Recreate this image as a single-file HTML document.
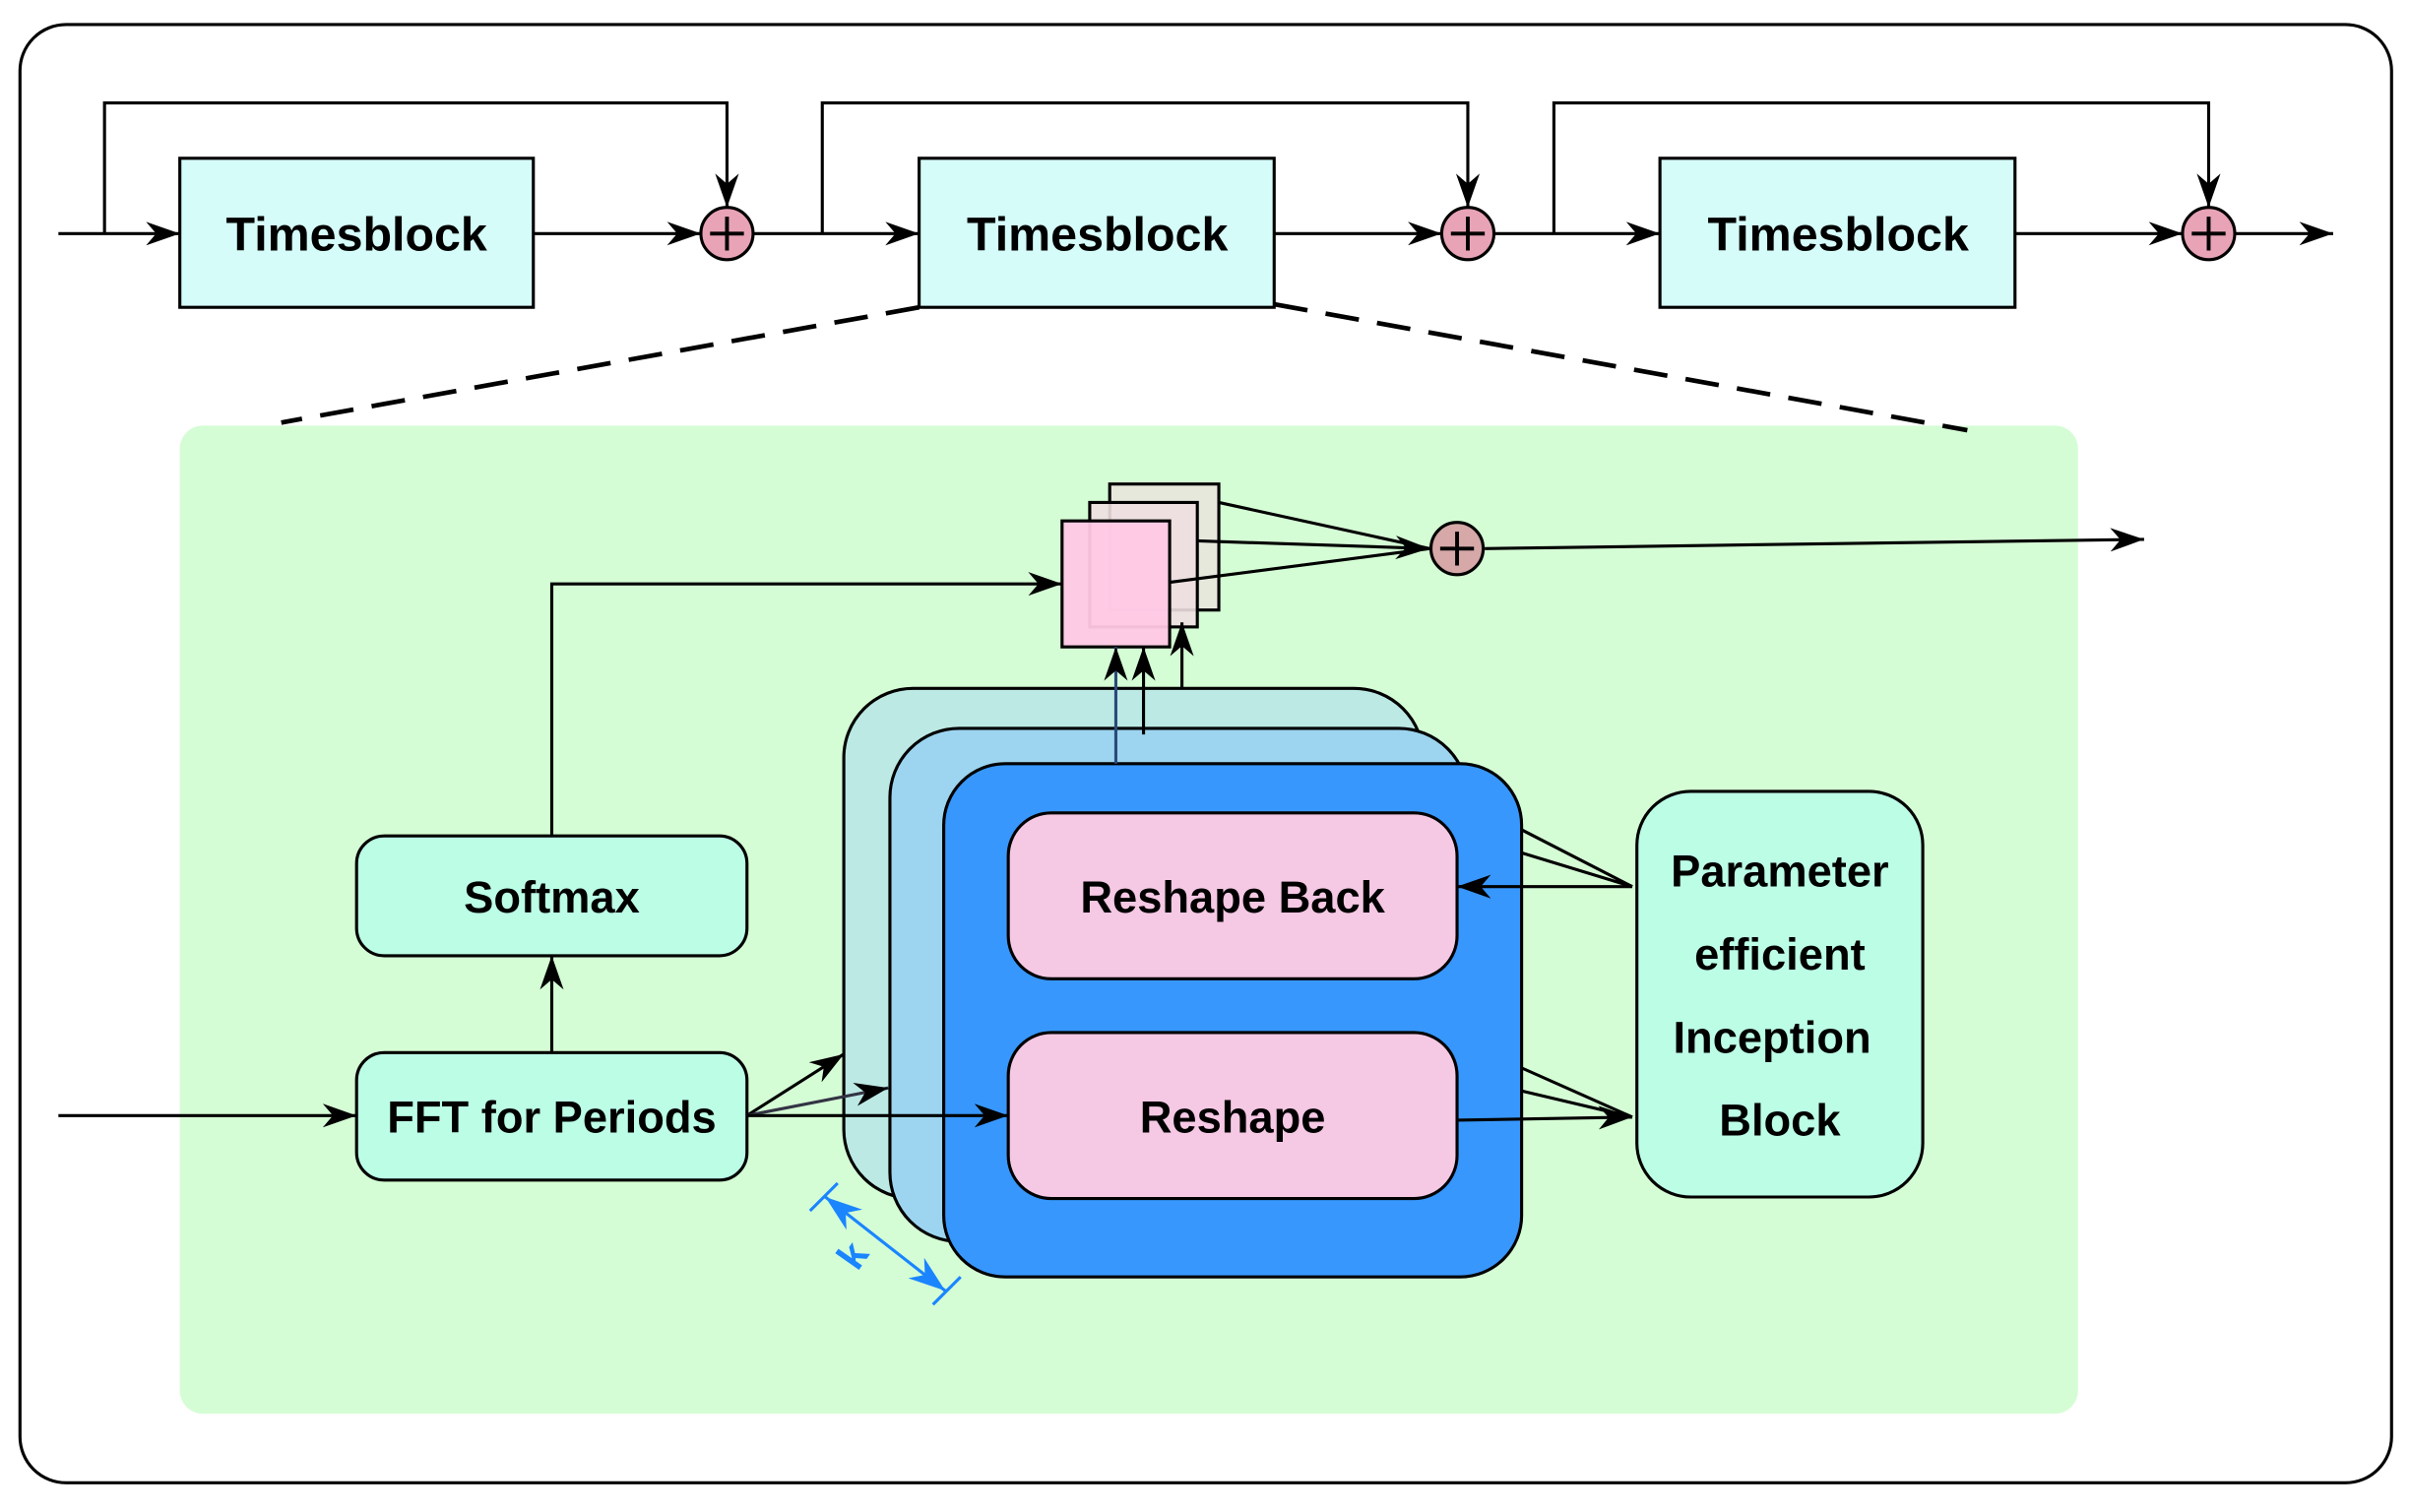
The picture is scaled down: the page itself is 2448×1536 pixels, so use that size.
<!DOCTYPE html>
<html><head><style>html,body{margin:0;padding:0;background:#fff}svg{display:block}</style></head><body>
<svg width="2448" height="1536" viewBox="0 0 1568 984" preserveAspectRatio="none" xmlns="http://www.w3.org/2000/svg" font-family="Liberation Sans, sans-serif" font-weight="bold">
<defs>
<marker id="a2" viewBox="0 0 10 10" refX="10" refY="5" markerWidth="22" markerHeight="22" orient="auto" markerUnits="userSpaceOnUse"><path d="M0,1.5 L10,5 L0,8.5 L3,5z" fill="#000"/></marker>
<marker id="b" viewBox="0 0 10 10" refX="10" refY="5" markerWidth="24" markerHeight="24" orient="auto-start-reverse" markerUnits="userSpaceOnUse"><path d="M0,1.5 L10,5 L0,8.5 L3,5z" fill="#1a85ff"/></marker>
</defs>
<rect x="13" y="16" width="1543" height="949" rx="30" fill="#fff" stroke="#000" stroke-width="2"/>
<g stroke="#000" stroke-width="2" fill="none">
<path d="M68,152 V67 H473 V135" marker-end="url(#a2)"/>
<path d="M535,152 V67 H955 V135" marker-end="url(#a2)"/>
<path d="M1011,152 V67 H1437 V135" marker-end="url(#a2)"/>
<path d="M38,152 H117" marker-end="url(#a2)"/>
<path d="M347,152 H456" marker-end="url(#a2)"/>
<path d="M490,152 H598" marker-end="url(#a2)"/>
<path d="M829,152 H938" marker-end="url(#a2)"/>
<path d="M972,152 H1080" marker-end="url(#a2)"/>
<path d="M1311,152 H1420" marker-end="url(#a2)"/>
<path d="M1454,152 H1518" marker-end="url(#a2)"/>
</g>
<g fill="#d5fcf9" stroke="#000" stroke-width="2">
<rect x="117" y="103" width="230" height="97"/>
<rect x="598" y="103" width="231" height="97"/>
<rect x="1080" y="103" width="231" height="97"/>
</g>
<g font-size="31" text-anchor="middle"><text x="232" y="163">Timesblock</text><text x="714" y="163">Timesblock</text><text x="1196" y="163">Timesblock</text></g>
<g fill="#e8a3b6" stroke="#000" stroke-width="2">
<circle cx="473" cy="152" r="17"/><circle cx="955" cy="152" r="17"/><circle cx="1437" cy="152" r="17"/>
</g>
<g stroke="#000" stroke-width="2.5"><path d="M462,152h22M473,141v22M944,152h22M955,141v22M1426,152h22M1437,141v22"/></g>
<rect x="117" y="277" width="1235" height="643" rx="15" fill="#d5fdd5"/>
<g stroke="#000" stroke-width="3" stroke-dasharray="22,12"><path d="M598,200 L183,275"/><path d="M829,198 L1280,280"/></g>
<rect x="722" y="315" width="71" height="82" fill="#e6e8dc" stroke="#000" stroke-width="2"/>
<rect x="709" y="327" width="70" height="81" fill="#eedfe0" fill-opacity="0.9" stroke="#000" stroke-width="2"/>
<rect x="691" y="339" width="70" height="82" fill="#ffc8e4" fill-opacity="0.95" stroke="#000" stroke-width="2"/>
<g stroke="#000" stroke-width="2" fill="none">
<path d="M793,327 L930,357"/><path d="M779,352 L930,357" marker-end="url(#a2)"/><path d="M761,379 L930,357"/>
<path d="M966,357 L1395,351" marker-end="url(#a2)"/>
<path d="M359,544 V380 H691" marker-end="url(#a2)"/>
<path d="M359,685 V622" marker-end="url(#a2)"/>
<path d="M38,726 H232" marker-end="url(#a2)"/>
</g>
<circle cx="948" cy="357" r="17" fill="#d6a8a8" stroke="#000" stroke-width="2"/>
<path d="M937,357h22M948,346v22" stroke="#000" stroke-width="2.5"/>
<rect x="549" y="448" width="377" height="332" rx="45" fill="#bce9e4" stroke="#000" stroke-width="2"/>
<rect x="579" y="474" width="376" height="334" rx="45" fill="#9dd5f0" stroke="#000" stroke-width="2"/>
<rect x="614" y="497" width="376" height="334" rx="40" fill="#3797fd" stroke="#000" stroke-width="2"/>
<g stroke="#000" stroke-width="2" fill="none">
<path d="M726,497 V421" marker-end="url(#a2)" stroke="#2a4a7a"/>
<path d="M744,478 V421" marker-end="url(#a2)"/>
<path d="M769,448 V405" marker-end="url(#a2)"/>
</g>
<rect x="656" y="529" width="292" height="108" rx="28" fill="#f5c8e4" stroke="#000" stroke-width="2"/>
<rect x="656" y="672" width="292" height="108" rx="28" fill="#f5c8e4" stroke="#000" stroke-width="2"/>
<rect x="232" y="544" width="254" height="78" rx="18" fill="#bcfde6" stroke="#000" stroke-width="2"/>
<rect x="232" y="685" width="254" height="83" rx="18" fill="#bcfde6" stroke="#000" stroke-width="2"/>
<rect x="1065" y="515" width="186" height="264" rx="35" fill="#bcfde6" stroke="#000" stroke-width="2"/>
<g stroke="#000" stroke-width="2" fill="none">
<path d="M486,726 L549,686" marker-end="url(#a2)"/>
<path d="M486,726 L578,708" marker-end="url(#a2)" stroke="#334"/>
<path d="M486,726 H656" marker-end="url(#a2)"/>
<path d="M948,729 L1062,727" marker-end="url(#a2)"/>
<path d="M990,695 L1062,727 M990,710 L1062,727"/>
<path d="M1062,577 H948" marker-end="url(#a2)"/>
<path d="M990,540 L1062,577 M990,555 L1062,577"/>
</g>
<g font-size="29" text-anchor="middle">
<text x="359" y="594">Softmax</text>
<text x="359" y="737">FFT for Periods</text>
<text x="802" y="594">Reshape Back</text>
<text x="802" y="737">Reshape</text>
<text x="1158" y="577">Parameter</text>
<text x="1158" y="631">efficient</text>
<text x="1153" y="685">Inception</text>
<text x="1158" y="739">Block</text>
</g>
<g stroke="#1a85ff" stroke-width="2" fill="none">
<path d="M537,779 L615,840" marker-start="url(#b)" marker-end="url(#b)"/>
<path d="M527,788 L545,770 M607,849 L625,831"/>
</g>
<text x="0" y="0" font-size="26" fill="#1a85ff" text-anchor="middle" transform="translate(562,822) rotate(-55)">k</text>
</svg>
</body></html>
